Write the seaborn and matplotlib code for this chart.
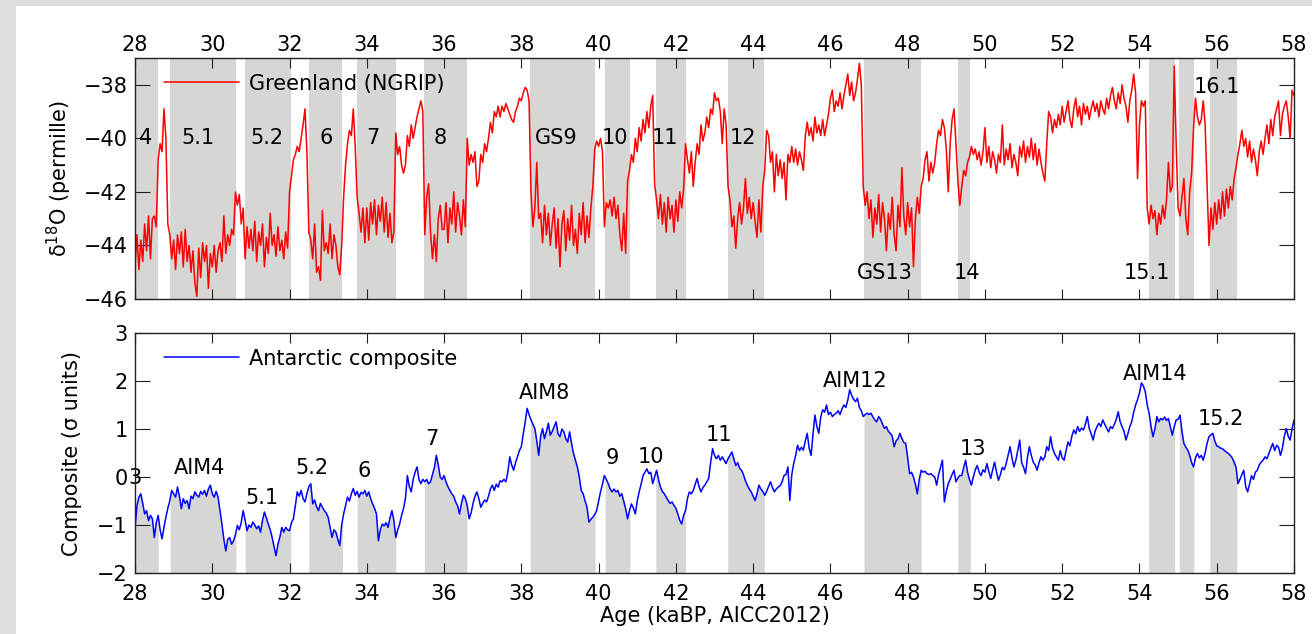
import numpy as np
import matplotlib
matplotlib.use("Agg")
from matplotlib import pyplot as plt
from matplotlib.patches import Rectangle
import seaborn as sns

# NGRIP d18O, 0.05 ka steps from 28.00 to 58.00 (one row per ka)
ngrip = [
    -44.8, -43.6, -44.9, -43.8, -44.6, -43.2, -44.2, -42.9, -44.5, -43.0, -42.9, -43.3, -40.8, -40.2, -40.5, -38.9, -40.0, -43.2, -43.6, -44.5,
    -43.8, -44.9, -43.6, -44.3, -43.5, -44.8, -43.4, -44.6, -44.0, -45.0, -44.2, -45.4, -45.9, -44.1, -45.2, -43.9, -44.6, -44.0, -45.6, -44.3,
    -44.8, -44.0, -45.0, -44.2, -43.9, -44.6, -42.9, -44.3, -43.6, -44.0, -43.4, -43.6, -42.0, -42.5, -42.1, -43.2, -42.6, -44.5, -43.3, -44.1,
    -43.4, -44.2, -43.1, -44.6, -43.5, -44.0, -43.2, -44.8, -43.7, -44.3, -42.8, -44.0, -43.6, -44.4, -43.3, -44.2, -43.8, -44.5, -43.5, -44.1,
    -42.0, -41.4, -40.8, -40.6, -40.3, -40.5, -40.0, -39.5, -38.9, -40.5, -43.5, -43.8, -44.5, -43.2, -45.0, -44.8, -45.3, -42.7, -44.2, -43.9,
    -44.3, -43.2, -44.5, -43.6, -44.0, -44.8, -45.1, -44.0, -42.2, -41.0, -40.2, -39.7, -39.9, -38.9, -40.3, -42.2, -42.8, -43.5, -42.6, -43.9,
    -42.6, -43.8, -42.4, -43.2, -42.3, -43.6, -42.5, -43.1, -42.2, -43.5, -42.4, -43.7, -42.8, -43.9, -43.5, -39.8, -40.6, -40.3, -41.0, -41.3,
    -41.0, -39.9, -40.3, -39.5, -40.0, -39.6, -39.2, -38.9, -38.6, -39.0, -43.6, -42.2, -41.7, -43.5, -44.5, -43.6, -44.6, -43.0, -42.5, -43.4,
    -43.4, -42.4, -43.9, -42.6, -43.2, -42.0, -43.5, -42.4, -42.9, -43.6, -42.3, -43.3, -40.0, -41.0, -40.6, -40.9, -40.5, -41.8, -41.6, -40.6,
    -40.9, -40.2, -40.5, -40.0, -39.4, -39.8, -39.0, -39.2, -38.8, -39.2, -38.8, -39.0, -38.7, -38.9, -39.1, -39.3, -39.4, -39.0, -38.8, -38.5,
    -38.6, -38.3, -38.1, -38.2, -38.6, -42.0, -43.3, -42.6, -40.9, -43.0, -42.8, -43.9, -42.5, -43.6, -42.8, -44.0, -43.2, -42.6, -44.1, -43.0,
    -44.8, -43.2, -42.7, -44.2, -43.0, -43.8, -42.5, -44.0, -43.4, -44.3, -42.8, -43.6, -42.4, -43.9, -42.9, -43.7, -42.6, -41.8, -40.4, -40.1,
    -40.3, -40.0, -40.5, -43.3, -42.4, -42.6, -42.3, -42.9, -42.2, -43.0, -42.5, -43.6, -44.2, -42.8, -44.3, -41.6, -41.2, -40.6, -40.9, -40.0,
    -40.5, -39.6, -40.1, -39.3, -39.8, -39.0, -39.6, -38.8, -38.4, -41.7, -42.3, -43.0, -42.1, -43.2, -42.4, -43.5, -42.2, -43.0, -42.5, -43.5,
    -42.3, -43.1, -42.0, -42.6, -41.9, -40.2, -40.8, -41.3, -40.5, -41.8, -40.9, -40.2, -40.6, -39.5, -40.1, -39.8, -39.2, -39.6, -38.9, -39.1,
    -38.3, -38.6, -38.5, -39.0, -40.2, -38.9, -39.5, -41.8, -42.3, -43.3, -42.9, -44.1, -43.0, -42.4, -43.2, -42.6, -41.5, -42.8, -42.2, -43.0,
    -42.4, -43.1, -43.7, -42.3, -43.5, -41.8, -41.2, -39.7, -39.9, -40.9, -40.5, -42.0, -40.6, -41.4, -40.8, -41.5, -40.9, -42.3, -40.6, -40.9,
    -40.3, -40.9, -40.4, -41.0, -40.5, -40.8, -41.2, -39.9, -39.4, -39.9, -39.6, -40.1, -39.2, -39.8, -39.5, -39.9, -39.3, -39.9, -39.5, -39.1,
    -38.5, -38.2, -39.0, -38.6, -38.8, -38.3, -38.9, -38.4, -38.0, -37.6, -38.4, -37.9, -38.6, -38.3, -37.8, -37.2, -38.0, -41.8, -42.5, -42.0,
    -43.0, -42.3, -43.7, -42.6, -43.2, -42.1, -43.5, -42.4, -43.0, -44.2, -42.8, -43.4, -42.2, -43.6, -44.2, -42.5, -43.3, -41.1, -42.9, -43.6,
    -42.4, -43.3, -42.6, -44.8, -43.0, -42.2, -42.8, -41.8, -41.5, -40.8, -40.5, -41.6, -40.9, -41.3, -40.9, -40.2, -39.7, -39.9, -39.3, -39.6,
    -40.4, -42.0, -40.2, -39.3, -38.9, -40.2, -41.6, -42.5, -41.8, -41.2, -41.4, -40.9, -40.7, -40.3, -40.6, -40.4, -40.8, -40.5, -41.0, -40.5,
    -39.6, -40.9, -40.3, -41.1, -40.5, -40.8, -41.3, -40.6, -40.9, -39.5, -41.0, -40.4, -40.8, -40.2, -41.1, -40.6, -40.9, -41.4, -40.3, -40.7,
    -40.1, -40.9, -40.3, -40.7, -40.0, -40.8, -40.2, -41.0, -40.4, -40.9, -41.3, -41.6, -40.2, -39.0, -39.2, -39.8, -39.3, -39.6, -39.1, -39.5,
    -38.8, -39.4, -39.0, -38.6, -39.3, -39.6, -38.9, -38.5, -39.2, -38.8, -39.5, -38.7, -39.1, -38.8, -39.3, -38.9, -38.6, -39.0, -38.7, -39.2,
    -38.6, -38.9, -39.1, -38.5, -38.9, -38.4, -38.1, -38.6, -38.9, -38.3, -38.7, -38.0, -38.5, -38.8, -39.4, -38.6, -38.2, -37.6, -38.3, -41.5,
    -39.5, -38.6, -38.8, -38.6, -42.6, -43.2, -42.5, -43.0, -42.7, -43.6, -42.8, -43.2, -42.5, -43.0, -42.3, -40.9, -42.0, -41.8, -37.3, -40.2,
    -42.6, -42.9, -42.2, -41.5, -43.0, -43.6, -42.0, -41.3, -39.6, -38.5, -39.2, -39.5, -39.3, -38.6, -39.5, -41.8, -44.0, -42.6, -43.4, -42.4,
    -43.2, -42.3, -43.0, -42.0, -42.9, -41.9, -42.6, -41.8, -42.3, -41.5, -41.1, -40.6, -40.2, -39.7, -40.3, -40.0, -40.7, -40.1, -40.9, -40.4,
    -40.8, -41.4, -40.5, -40.1, -40.6, -40.0, -39.5, -40.2, -39.3, -39.9, -39.2, -38.9, -38.6, -39.9, -39.1, -38.8, -38.6, -39.2, -40.0, -38.2,
    -38.4,
]

# Antarctic composite (sigma units), same 0.05 ka steps
antarctic = [
    -1.08, -0.60, -0.42, -0.35, -0.55, -0.77, -0.70, -0.91, -0.80, -0.87, -1.26, -0.95, -0.80, -1.10, -1.29, -1.05, -0.84, -0.65, -0.50, -0.28,
    -0.35, -0.42, -0.21, -0.40, -0.66, -0.45, -0.55, -0.49, -0.66, -0.40, -0.45, -0.31, -0.38, -0.42, -0.30, -0.36, -0.28, -0.40, -0.25, -0.17,
    -0.35, -0.42, -0.30, -0.42, -0.70, -0.98, -1.30, -1.54, -1.30, -1.26, -1.40, -1.33, -1.20, -1.01, -1.10, -0.95, -0.70, -0.90, -1.12, -1.00,
    -1.05, -0.94, -1.00, -1.08, -1.02, -1.15, -0.90, -0.73, -0.85, -0.98, -1.10, -1.26, -1.45, -1.64, -1.40, -1.25, -1.05, -1.15, -1.05, -1.10,
    -1.12, -0.95, -0.87, -0.60, -0.31, -0.40, -0.28, -0.45, -0.52, -0.35, -0.20, -0.14, -0.56, -0.48, -0.62, -0.70, -0.55, -0.63, -0.70, -0.75,
    -0.84, -1.05, -1.26, -1.10, -1.15, -1.30, -1.43, -1.00, -0.77, -0.60, -0.42, -0.50, -0.35, -0.24, -0.38, -0.30, -0.42, -0.32, -0.35, -0.28,
    -0.40, -0.31, -0.45, -0.56, -0.65, -0.77, -1.33, -1.10, -0.98, -1.02, -0.95, -1.05, -0.85, -0.70, -0.90, -1.26, -1.10, -0.98, -0.80, -0.66,
    -0.45, 0.03, -0.20, -0.31, -0.05, 0.10, 0.21, -0.05, -0.14, -0.05, -0.10, -0.05, -0.14, -0.10, 0.05, 0.20, 0.45, 0.25, 0.00, -0.05,
    0.03, -0.10, -0.20, -0.28, -0.35, -0.40, -0.52, -0.60, -0.77, -0.55, -0.38, -0.45, -0.60, -0.87, -0.75, -0.55, -0.40, -0.31, -0.45, -0.63,
    -0.55, -0.48, -0.52, -0.40, -0.25, -0.17, -0.28, -0.15, -0.21, -0.08, -0.10, -0.05, -0.10, 0.10, 0.42, 0.25, 0.14, 0.30, 0.42, 0.55,
    0.63, 0.90, 1.15, 1.43, 1.30, 1.19, 1.10, 1.01, 0.75, 0.45, 0.85, 1.01, 0.80, 0.95, 1.12, 0.87, 0.95, 1.05, 1.15, 0.90,
    0.84, 1.00, 0.94, 0.80, 0.73, 0.94, 0.70, 0.49, 0.35, 0.21, 0.00, -0.28, -0.35, -0.50, -0.63, -0.94, -0.88, -0.84, -0.78, -0.70,
    -0.50, -0.31, -0.15, 0.03, -0.05, -0.14, -0.25, -0.31, -0.25, -0.31, -0.28, -0.40, -0.35, -0.50, -0.66, -0.87, -0.70, -0.56, -0.65, -0.77,
    -0.50, -0.31, -0.15, 0.03, 0.10, 0.17, 0.07, 0.10, -0.14, 0.00, 0.14, -0.05, -0.21, -0.30, -0.35, -0.42, -0.49, -0.55, -0.52, -0.59,
    -0.65, -0.77, -0.90, -0.98, -0.80, -0.70, -0.45, -0.31, -0.35, -0.28, -0.15, -0.03, -0.20, -0.31, -0.22, -0.17, -0.10, -0.03, 0.30, 0.59,
    0.45, 0.38, 0.45, 0.35, 0.42, 0.35, 0.28, 0.38, 0.45, 0.52, 0.38, 0.24, 0.30, 0.18, 0.14, 0.05, -0.08, -0.17, -0.25, -0.31,
    -0.40, -0.49, -0.35, -0.17, -0.25, -0.30, -0.38, -0.30, -0.20, -0.10, -0.22, -0.31, -0.25, -0.21, -0.18, -0.10, 0.03, 0.05, 0.21, -0.49,
    0.05, 0.28, 0.45, 0.66, 0.55, 0.62, 0.56, 0.75, 0.91, 0.60, 0.45, 0.90, 1.29, 1.05, 0.91, 1.25, 1.40, 1.35, 1.50, 1.30,
    1.35, 1.26, 1.30, 1.33, 1.38, 1.30, 1.42, 1.50, 1.45, 1.60, 1.82, 1.70, 1.62, 1.57, 1.64, 1.45, 1.38, 1.26, 1.30, 1.33,
    1.30, 1.33, 1.25, 1.19, 1.15, 1.26, 1.20, 1.10, 1.01, 1.05, 0.95, 0.91, 0.85, 0.63, 0.75, 0.80, 0.91, 0.80, 0.72, 0.70,
    0.40, 0.07, 0.10, 0.00, -0.15, -0.35, -0.05, 0.14, 0.10, 0.12, 0.07, 0.05, 0.07, 0.03, 0.00, -0.17, 0.05, 0.20, 0.35, -0.52,
    -0.30, -0.14, -0.05, 0.05, 0.14, -0.10, -0.02, 0.03, 0.03, 0.20, 0.35, 0.10, -0.05, -0.17, 0.00, 0.15, 0.24, 0.10, 0.03, 0.15,
    0.10, 0.28, 0.12, -0.03, 0.15, 0.31, 0.10, -0.07, 0.05, 0.20, 0.15, 0.28, 0.45, 0.63, 0.40, 0.21, 0.35, 0.55, 0.77, 0.30,
    0.20, 0.07, 0.40, 0.63, 0.45, 0.31, 0.25, 0.14, 0.30, 0.42, 0.35, 0.42, 0.63, 0.55, 0.84, 0.60, 0.49, 0.42, 0.35, 0.55,
    0.40, 0.35, 0.55, 0.73, 0.65, 0.85, 0.98, 0.90, 1.05, 0.95, 1.02, 0.98, 1.10, 1.26, 1.01, 0.90, 0.77, 0.95, 1.05, 1.12,
    1.05, 1.19, 1.10, 1.02, 0.94, 1.05, 1.01, 1.10, 1.20, 1.36, 1.15, 1.05, 0.95, 0.77, 0.90, 1.05, 1.15, 1.35, 1.50, 1.61,
    1.75, 1.96, 1.90, 1.78, 1.50, 1.33, 1.05, 0.84, 1.00, 1.26, 1.15, 1.22, 1.19, 1.25, 1.18, 1.22, 1.05, 0.87, 1.05, 1.19,
    1.20, 1.29, 0.95, 0.70, 0.62, 0.56, 0.45, 0.30, 0.21, 0.40, 0.49, 0.40, 0.45, 0.35, 0.50, 0.70, 0.84, 0.88, 0.91, 0.75,
    0.65, 0.63, 0.60, 0.59, 0.55, 0.52, 0.49, 0.45, 0.40, 0.31, 0.20, -0.14, -0.05, 0.05, 0.14, -0.20, -0.31, -0.15, 0.03, -0.05,
    0.10, 0.14, 0.25, 0.31, 0.35, 0.42, 0.38, 0.49, 0.60, 0.70, 0.55, 0.66, 0.62, 0.45, 0.60, 0.85, 1.01, 0.85, 0.77, 1.00,
    1.19,
]

age = np.round(np.arange(len(ngrip)) * 0.05 + 28.0, 2)

# Greenland stadials (shaded)
stad_start = [28.0, 28.91, 30.85, 32.50, 33.75, 35.49, 38.23, 40.17, 41.48, 43.34, 46.87, 49.30, 54.24, 55.03, 55.82]
stad_end = [28.60, 30.61, 32.03, 33.37, 34.75, 36.59, 39.91, 40.81, 42.25, 44.29, 48.35, 49.62, 54.91, 55.41, 56.52]

gs_labels = ["4", "5.1", "5.2", "6", "7", "8", "GS9", "10", "11", "12", "GS13", "14", "15.1", "16.1"]
gs_x = [28.27, 29.64, 31.41, 32.94, 34.17, 35.9, 38.9, 40.43, 41.72, 43.74, 47.41, 49.53, 54.2, 56.0]
gs_y = [-40, -40, -40, -40, -40, -40, -40, -40, -40, -40, -45.03, -45.03, -45.03, -38.07]

aim_labels = ["3", "AIM4", "5.1", "5.2", "6", "7", "AIM8", "9", "10", "11", "AIM12", "13", "AIM14", "15.2"]
aim_x = [28.0, 29.68, 31.28, 32.57, 33.94, 35.68, 38.61, 40.36, 41.36, 43.12, 46.64, 49.68, 54.40, 56.10]
aim_y = [-0.02, 0.19, -0.43, 0.19, 0.125, 0.79, 1.74, 0.39, 0.42, 0.875, 2.0, 0.58, 2.15, 1.2]

sns.set_style("ticks")
plt.rcParams["font.family"] = ["DejaVu Sans"]
plt.rcParams.update({"text.color": "black", "axes.labelcolor": "black",
                     "xtick.color": "#222222", "ytick.color": "#222222",
                     "xtick.labelcolor": "black", "ytick.labelcolor": "black"})
fs = 15
shade = "#d6d6d4"

fig = plt.figure(figsize=(13.12, 6.34), dpi=100)
fig.patch.set_facecolor("#dedede")
fig.patches.append(Rectangle((16 / 1312, 0), 1, 1 - 6 / 634, transform=fig.transFigure,
                             facecolor="white", edgecolor="none", zorder=-10))

ax1 = fig.add_axes([135 / 1312, 1 - 299 / 634, 1159 / 1312, 241 / 634])
ax2 = fig.add_axes([135 / 1312, 1 - 573 / 634, 1159 / 1312, 240 / 634])

# top panel
for a, b in zip(stad_start, stad_end):
    ax1.axvspan(a, b, color=shade, lw=0, zorder=0)
sns.lineplot(x=age, y=ngrip, ax=ax1, color="#ff0000", lw=1.1, label="Greenland (NGRIP)")
for t, x, y in zip(gs_labels, gs_x, gs_y):
    ax1.text(x, y, t, fontsize=fs, ha="center", va="center", zorder=5)
ax1.set_xlim(28, 58)
ax1.set_ylim(-46, -37)
ax1.set_xticks(np.arange(28, 59, 2))
ax1.set_yticks(np.arange(-46, -37, 2))
ax1.set_yticklabels(["\u2212%d" % abs(v) for v in range(-46, -37, 2)])
ax1.tick_params(axis="x", bottom=True, top=True, labelbottom=False, labeltop=True,
                direction="in", length=7, labelsize=fs, pad=2)
ax1.tick_params(axis="y", left=True, right=True, direction="in", length=11, labelsize=fs, pad=5)
ax1.set_xlabel("")
ax1.set_ylabel("\u03b4$^{18}$O (permille)", fontsize=fs)
ax1.yaxis.set_label_coords(-0.053, 0.5)
ax1.legend(loc="upper left", frameon=False, fontsize=fs, handlelength=3.6,
           handletextpad=0.45, bbox_to_anchor=(0.018, 0.97), borderaxespad=0)

# bottom panel
for a, b in zip(stad_start, stad_end):
    inside = age[(age > a) & (age < b)]
    xs = np.concatenate([[a], inside, [b]])
    ys = np.interp(xs, age, antarctic)
    ax2.fill_between(xs, -2, ys, color=shade, lw=0, zorder=0)
sns.lineplot(x=age, y=antarctic, ax=ax2, color="#0000ff", lw=1.1, label="Antarctic composite")
for t, x, y in zip(aim_labels, aim_x, aim_y):
    ax2.text(x, y, t, fontsize=fs, ha="center", va="center", zorder=5, clip_on=False)
ax2.set_xlim(28, 58)
ax2.set_ylim(-2, 3)
ax2.set_xticks(np.arange(28, 59, 2))
ax2.set_yticks(np.arange(-2, 4, 1))
ax2.set_yticklabels(["\u22122", "\u22121", "0", "1", "2", "3"])
ax2.tick_params(axis="x", bottom=True, top=True, direction="in", length=7, labelsize=fs, pad=8)
ax2.tick_params(axis="y", left=True, right=True, direction="in", length=11, labelsize=fs, pad=5)
ax2.set_xlabel("Age (kaBP, AICC2012)", fontsize=fs, labelpad=1)
ax2.set_ylabel("Composite (\u03c3 units)", fontsize=fs)
ax2.yaxis.set_label_coords(-0.046, 0.5)
ax2.legend(loc="upper left", frameon=False, fontsize=fs, handlelength=3.6,
           handletextpad=0.45, bbox_to_anchor=(0.018, 0.97), borderaxespad=0)

for ax in (ax1, ax2):
    for s in ax.spines.values():
        s.set_linewidth(1.0)
        s.set_color("#222222")
        s.set_zorder(6)

fig.savefig("out.png", dpi=100, facecolor=fig.get_facecolor())
